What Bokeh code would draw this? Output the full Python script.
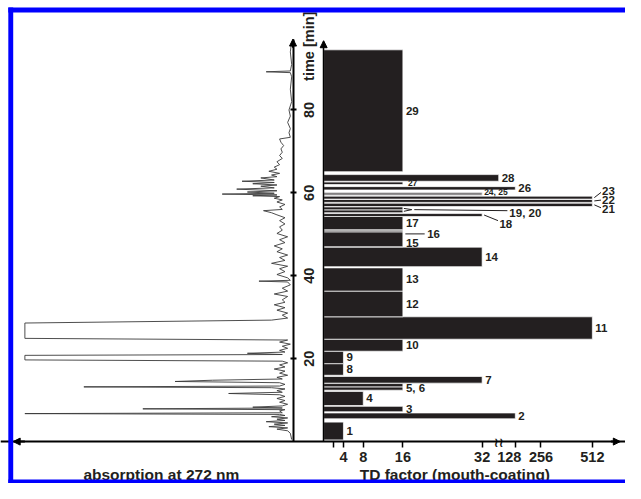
import math
from bokeh.plotting import figure
from bokeh.models import (Range1d, LinearAxis, FixedTicker, Arrow, BoxAnnotation,
                          NormalHead, ColumnDataSource)
from bokeh.core.properties import value
from bokeh.embed import file_html
from bokeh.resources import INLINE

# ---------------- data ----------------
FRACTION = [str(i) for i in range(1, 30)]
T_START = [0.4, 5.5, 7.2, 8.7, 12.4, 13.2, 14.1, 16.0, 18.8, 21.8, 24.7, 30.1,
           36.3, 42.2, 47.0, 50.6, 51.1, 54.3, 55.2, 55.9, 56.7, 57.7, 58.5,
           59.4, 59.75, 60.7, 62.0, 62.8, 65.1]
T_END = [4.7, 6.9, 8.5, 12.1, 13.2, 14.0, 15.7, 18.8, 21.8, 24.7, 30.1, 36.3,
         41.9, 46.9, 50.6, 51.0, 54.3, 55.0, 55.9, 56.6, 57.5, 58.4, 59.2,
         59.75, 60.1, 61.5, 62.6, 64.4, 94.5]
TD_FACTOR = [4, 128, 16, 8, 16, 16, 32, 4, 4, 16, 512, 16, 16, 32, 16, 16, 16,
             32, 16, 16, 512, 512, 512, 32, 32, 128, 16, 64, 16]

LABEL_TEXT = ["1", "2", "3", "4", "5, 6", "7", "8", "9", "10", "11", "12", "13",
              "14", "15", "16", "17", "18", "19, 20", "21", "22", "23",
              "24, 25", "26", "27", "28", "29"]
LABEL_MEMBERS = [[1], [2], [3], [4], [5, 6], [7], [8], [9], [10], [11], [12],
                 [13], [14], [15], [16], [17], [18], [19, 20], [21], [22], [23],
                 [24, 25], [26], [27], [28], [29]]

TD_TICKS = [2, 4, 8, 16, 32, 128, 256, 512]
TD_TICK_LABELS = ["", "4", "8", "16", "32", "128\u00a0\u00a0\u00a0", "256", "512"]
TIME_TICKS = [20, 40, 60, 80]
TIME_TICK_LABELS = ["20", "40", "60", "80"]

CHROM_TIME = [0.5, 2.0, 2.6, 3.0, 3.3, 3.6, 3.9, 4.2, 4.5, 4.8, 5.1, 5.4, 5.7,
              6.0, 6.3, 6.55, 6.75, 6.95, 7.4, 7.7, 7.9, 8.1, 8.3, 8.6, 9.0,
              9.5, 9.9, 10.4, 10.9, 11.3, 11.6, 11.9, 12.3, 12.7, 13.0, 13.2,
              13.4, 13.8, 14.2, 14.5, 14.8, 15.1, 15.5, 16.0, 16.5, 17.0, 17.5,
              18.0, 18.5, 19.0, 19.4, 19.7, 20.8, 21.0, 21.3, 21.6, 22.0, 22.5,
              23.0, 23.5, 24.0, 24.5, 24.9, 28.6, 29.3, 29.8, 30.5, 31.0, 31.7,
              32.3, 33.0, 33.6, 34.2, 35.0, 35.6, 36.3, 37.0, 37.8, 38.5, 38.7,
              38.9, 39.5, 40.3, 41.0, 41.7, 42.3, 43.0, 43.7, 44.4, 45.0, 45.8,
              46.5, 47.2, 48.0, 48.7, 49.4, 50.2, 51.0, 51.8, 52.5, 53.3, 54.0,
              54.7, 55.2, 55.7, 56.0, 56.6, 57.2, 57.8, 58.3, 58.7, 59.1, 59.3,
              59.5, 59.7, 59.9, 60.2, 60.5, 60.9, 61.2, 61.6, 61.9, 62.2, 62.5,
              62.8, 63.1, 63.6, 63.9, 64.3, 64.7, 65.2, 65.7, 66.2, 66.8, 67.5,
              68.3, 69.0, 69.8, 70.6, 71.4, 72.2, 73.0, 73.4, 74.5, 75.5, 77.0,
              78.5, 80.0, 82.0, 85.0, 88.0, 89.0, 89.2, 89.4, 91.0, 94.0, 96.5]
CHROM_ABS = [0.005, 0.01, 0.02, 0.06, 0.02, 0.09, 0.03, 0.07, 0.02, 0.10, 0.03,
             0.06, 0.02, 0.08, 0.03, 0.05, 1.0, 0.04, 0.05, 0.03, 0.56, 0.04,
             0.15, 0.04, 0.02, 0.05, 0.03, 0.06, 0.03, 0.05, 0.24, 0.04, 0.06,
             0.03, 0.08, 0.78, 0.05, 0.03, 0.05, 0.44, 0.30, 0.04, 0.06, 0.02,
             0.05, 0.03, 0.07, 0.03, 0.05, 0.02, 0.04, 1.0, 1.0, 0.04, 0.17,
             0.03, 0.05, 0.02, 0.04, 0.01, 0.05, 0.02, 1.0, 1.0, 0.08, 0.02,
             0.04, 0.02, 0.06, 0.03, 0.07, 0.03, 0.04, 0.02, 0.07, 0.02, 0.04,
             0.01, 0.02, 0.127, 0.01, 0.02, 0.06, 0.03, 0.05, 0.02, 0.08, 0.03,
             0.05, 0.02, 0.06, 0.04, 0.07, 0.03, 0.05, 0.02, 0.06, 0.04, 0.05,
             0.03, 0.05, 0.03, 0.06, 0.08, 0.11, 0.04, 0.05, 0.03, 0.06, 0.04,
             0.07, 0.05, 0.15, 0.06, 0.264, 0.07, 0.17, 0.06, 0.21, 0.07, 0.12,
             0.06, 0.15, 0.07, 0.19, 0.07, 0.12, 0.06, 0.08, 0.05, 0.09, 0.06,
             0.07, 0.05, 0.06, 0.04, 0.05, 0.04, 0.045, 0.035, 0.045, 0.05,
             0.01, 0.015, 0.01, 0.02, 0.01, 0.015, 0.005, 0.01, 0.005, 0.01,
             0.10, 0.01, 0.005, 0.01, 0.005]


# broken TD axis: linear up to 32, gap (log) up to 128, compressed linear above
def td_pos(td):
    if td <= 32:
        return float(td)
    if td <= 128:
        return round(32 + 6.7 * math.log2(td / 32) / 2, 3)
    return round(38.7 + (td - 128) * 0.0405, 3)


# ---------------- figure ----------------
W, H = 625, 483
X_RANGE = (-65.236, 60.945)      # bar / TD-factor coordinate
ABS_RANGE = (1.09091, -1.23999)  # absorbance, increasing to the left
Y_RANGE = (-10.110, 106.398)     # time [min]
FONT_NAME = "Liberation Sans"
FONT = value(FONT_NAME)
INK = "#231f20"

p = figure(width=W, height=H, x_range=Range1d(*X_RANGE), y_range=Range1d(*Y_RANGE),
           x_axis_type=None, y_axis_type=None, toolbar_location=None,
           output_backend="svg", min_border=0)
p.extra_x_ranges = {"abs": Range1d(*ABS_RANGE)}
p.outline_line_color = None
p.background_fill_color = "white"
p.border_fill_color = "white"

# chromatogram
p.line(CHROM_ABS, CHROM_TIME, x_range_name="abs", line_color="#3a3a3a", line_width=0.9)

# bars
mids = [(a + b) / 2 for a, b in zip(T_START, T_END)]
heights = [b - a for a, b in zip(T_START, T_END)]
rights = [td_pos(v) for v in TD_FACTOR]
bar_src = ColumnDataSource(dict(y=mids, h=heights, r=rights, name=FRACTION))
p.hbar(y="y", height="h", left=0, right="r", source=bar_src, fill_color=INK,
       line_color="white", line_width=0.7)

# bar labels
special = {
    "5, 6": dict(y=13.0),
    "15": dict(y=48.0),
    "16": dict(x=20.9, y=50.1, xo=0),
    "18": dict(x=35.5, y=52.6, xo=0),
    "19, 20": dict(x=37.5, y=55.25, xo=0),
    "21": dict(x=56.2, y=56.1, xo=0),
    "22": dict(x=56.2, y=58.3, xo=0),
    "23": dict(x=56.2, y=60.4, xo=0),
    "24, 25": dict(y=60.3, xo=2, size="8.5px"),
    "27": dict(xo=5, size="8.5px"),
}
lx, ly, lxo, lsz = [], [], [], []
for txt, mem in zip(LABEL_TEXT, LABEL_MEMBERS):
    sp = special.get(txt, {})
    lx.append(sp.get("x", max(rights[m - 1] for m in mem)))
    ly.append(sp.get("y", sum(mids[m - 1] for m in mem) / len(mem)))
    lxo.append(sp.get("xo", 3))
    lsz.append(sp.get("size", "11.5px"))
lab_src = ColumnDataSource(dict(x=lx, y=ly, t=LABEL_TEXT, xo=lxo, s=lsz))
p.text(x="x", y="y", text="t", x_offset="xo", text_font_size="s", source=lab_src,
       text_font=FONT, text_font_style="bold", text_color=INK,
       text_baseline="middle", text_align="left")


def tip(i):
    return rights[i - 1]


def mid(i):
    return mids[i - 1]


lead = [
    (tip(16) + 0.5, 50.1, tip(16) + 4.4, 50.1),
    (tip(18) + 0.4, mid(18), 35.2, 53.3),
    (tip(19) + 0.2, mid(20), 17.8, 55.95),
    (tip(19) + 0.2, mid(19), 17.8, 55.95),
    (18.3, 55.95, 37.1, 55.7),
    (tip(21) + 0.4, mid(21), 56.0, 56.4),
    (tip(22) + 0.4, mid(22), 56.0, 58.25),
    (tip(23) + 0.4, mid(23), 56.0, 60.1),
]
p.segment(x0=[a[0] for a in lead], y0=[a[1] for a in lead],
          x1=[a[2] for a in lead], y1=[a[3] for a in lead],
          line_color=INK, line_width=1)

# ---------------- axes ----------------
tick_pos = [td_pos(t) for t in TD_TICKS]
xa = LinearAxis(fixed_location=0, ticker=FixedTicker(ticks=tick_pos),
                major_label_overrides={tp: lab for tp, lab in zip(tick_pos, TD_TICK_LABELS)},
                axis_line_width=2, axis_line_color="black",
                major_tick_out=6, major_tick_in=0, major_tick_line_width=1.5,
                minor_tick_out=0, minor_tick_in=0, major_label_standoff=1,
                major_label_text_font=FONT_NAME, major_label_text_font_style="bold",
                major_label_text_font_size="14.5px", major_label_text_color=INK)
p.add_layout(xa, "below")

# time axis (labels drawn rotated next to it, reading upwards)
ta = LinearAxis(x_range_name="abs", fixed_location=0, bounds=(0, 97),
                ticker=FixedTicker(ticks=TIME_TICKS),
                major_label_overrides={t: "" for t in TIME_TICKS},
                axis_line_width=2,
                major_tick_in=3, major_tick_out=3, major_tick_line_width=2,
                minor_tick_out=0, minor_tick_in=0)
p.add_layout(ta, "right")
p.text(x=[0] * len(TIME_TICKS), y=TIME_TICKS, text=TIME_TICK_LABELS,
       x_range_name="abs", x_offset=16.3, angle=math.pi / 2,
       text_font=FONT, text_font_style="bold", text_font_size="14.5px",
       text_color=INK, text_align="center", text_baseline="middle")

ba = LinearAxis(fixed_location=0, bounds=(0, 96.6), ticker=FixedTicker(ticks=[]),
                axis_line_width=1.5, major_tick_in=0, major_tick_out=0,
                minor_tick_out=0, minor_tick_in=0)
p.add_layout(ba, "left")

head = dict(size=7, fill_color="black", line_color="black")
p.add_layout(Arrow(x_range_name="abs", x_start=0, y_start=95, x_end=0, y_end=97.1,
                   end=NormalHead(**head), line_width=2))
p.add_layout(Arrow(x_start=0, y_start=95, x_end=0, y_end=96.7,
                   end=NormalHead(**head), line_width=1.5))
p.add_layout(Arrow(x_range_name="abs", x_start=1.0, y_start=0, x_end=1.0436, y_end=0,
                   end=NormalHead(**head), line_width=2))
p.add_layout(Arrow(x_start=58.0, y_start=0, x_end=59.9, y_end=0,
                   end=NormalHead(**head), line_width=2))

# axis break mark
p.text(x=[td_pos(64)], y=[0], text=["≀≀"], text_font=value("DejaVu Sans"),
       text_font_size="13px", text_font_style="bold", text_color=INK,
       text_align="center", text_baseline="middle", y_offset=1)

# titles
p.text(x=[0], y=[87.0], text=["time [min]"], x_range_name="abs", x_offset=16.3,
       angle=math.pi / 2, text_font=FONT, text_font_style="bold",
       text_font_size="14.5px", text_color=INK, text_align="left",
       text_baseline="middle")
p.text(x=[0.491], y=[-8.0], text=["absorption at 272 nm"], x_range_name="abs",
       text_font=FONT, text_font_style="bold", text_font_size="15.5px",
       text_color=INK, text_align="center", text_baseline="alphabetic")
p.text(x=[26.5], y=[-8.0], text=["TD factor (mouth-coating)"],
       text_font=FONT, text_font_style="bold", text_font_size="15.5px",
       text_color=INK, text_align="center", text_baseline="alphabetic")

# blue frame (left, top, bottom) of the original figure
BLUE = "#0000ff"
p.add_layout(BoxAnnotation(left=-63.66, right=-62.67, bottom=Y_RANGE[0], top=104.69,
                           fill_color=BLUE, fill_alpha=1, line_color=None))
p.add_layout(BoxAnnotation(left=-63.66, right=X_RANGE[1], bottom=103.53, top=104.69,
                           fill_color=BLUE, fill_alpha=1, line_color=None))
p.add_layout(BoxAnnotation(left=-63.66, right=X_RANGE[1], bottom=Y_RANGE[0], top=-9.17,
                           fill_color=BLUE, fill_alpha=1, line_color=None))

open("out.html", "w").write(file_html(p, INLINE))
